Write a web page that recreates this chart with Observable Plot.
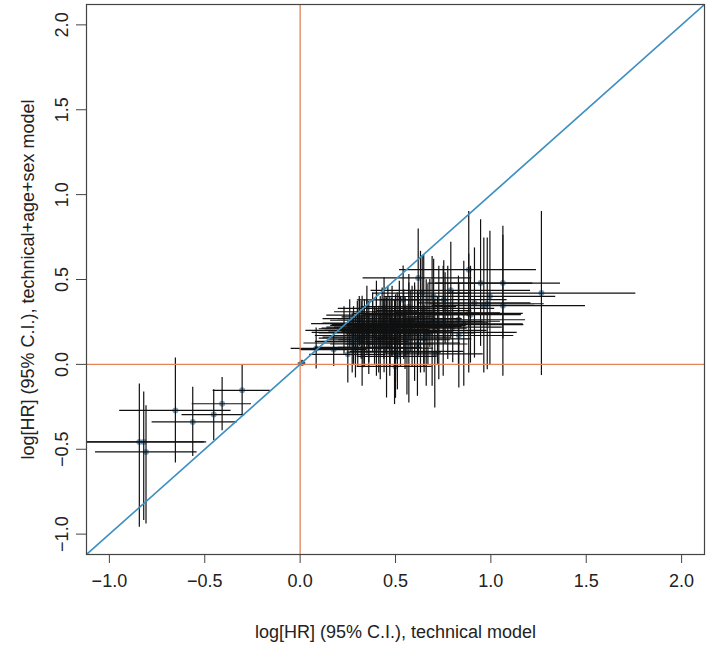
<!DOCTYPE html>
<html>
<head>
<meta charset="utf-8">
<script src="https://cdn.jsdelivr.net/npm/d3@7"></script>
<script src="https://cdn.jsdelivr.net/npm/@observablehq/plot@0.6"></script>
<style>
  html, body { margin: 0; padding: 0; background: #fff; }
  #chart svg { display: block; }
</style>
</head>
<body>
<div id="chart"></div>
<script>
// log[HR] estimates and 95% CI, technical model (x)
const techEst = [
  -0.654, -0.563, -0.453, -0.409, -0.304, -0.843, -0.820, -0.808, 0.010,
  0.084, 0.176, 0.250, 0.273, 0.302, 0.311, 0.325, 0.337, 0.400, 0.412,
  0.439, 0.453, 0.470, 0.482, 0.495, 0.509, 0.526, 0.543, 0.570, 0.587,
  0.619, 0.615, 0.631, 0.648, 0.661, 0.692, 0.706, 0.727, 0.750, 0.753,
  0.774, 0.790, 0.832, 0.858, 0.884, 0.884, 0.893, 0.914, 0.946, 0.963,
  0.981, 0.995, 1.063, 1.063, 1.265, 0.830, 0.670, 0.500, 0.600, 0.440,
  0.500, 0.560, 0.510, 0.500,
  0.30, 0.32, 0.35, 0.38, 0.40, 0.42, 0.45, 0.48, 0.52, 0.55, 0.58, 0.62,
  0.28, 0.33, 0.36, 0.38, 0.43, 0.46, 0.47, 0.40, 0.44, 0.35, 0.52, 0.57,
  0.29, 0.36, 0.42, 0.55, 0.60, 0.68, 0.72, 0.65, 0.76, 0.80, 0.26, 0.23,
  0.31, 0.70, 0.54, 0.64, 0.39, 0.47
];
const techLo = [
  -0.946, -0.776, -0.619, -0.566, -0.456, -1.180, -1.150, -1.073, -0.010,
  -0.047, 0.000, 0.050, 0.020, 0.100, 0.120, 0.080, 0.100, 0.180, 0.150,
  0.200, 0.200, 0.220, 0.250, 0.250, 0.280, 0.250, 0.300, 0.300, 0.330,
  0.330, 0.350, 0.334, 0.400, 0.400, 0.420, 0.450, 0.470, 0.450, 0.421,
  0.500, 0.372, 0.550, 0.550, 0.521, 0.600, 0.620, 0.620, 0.670, 0.700,
  0.680, 0.650, 0.710, 0.692, 0.770, 0.474, 0.168, 0.115, 0.063, 0.159,
  0.203, 0.264, 0.299, 0.299,
  0.10, 0.13, 0.14, 0.16, 0.18, 0.19, 0.22, 0.24, 0.28, 0.30, 0.33, 0.37,
  0.08, 0.12, 0.15, 0.16, 0.20, 0.22, 0.24, 0.18, 0.20, 0.14, 0.28, 0.32,
  0.08, 0.16, 0.20, 0.31, 0.35, 0.42, 0.46, 0.40, 0.50, 0.54, 0.06, 0.03,
  0.12, 0.44, 0.30, 0.38, 0.17, 0.24
];
const techHi = [
  -0.362, -0.330, -0.290, -0.255, -0.156, -0.502, -0.490, -0.540, 0.030,
  0.211, 0.350, 0.450, 0.520, 0.500, 0.500, 0.570, 0.580, 0.620, 0.670,
  0.680, 0.700, 0.720, 0.720, 0.740, 0.740, 0.800, 0.790, 0.840, 0.850,
  0.900, 0.880, 0.893, 0.900, 0.920, 0.960, 0.960, 0.990, 1.050, 1.085,
  1.050, 1.208, 1.120, 1.170, 1.239, 1.170, 1.160, 1.210, 1.220, 1.230,
  1.280, 1.340, 1.365, 1.496, 1.760, 1.182, 1.173, 0.876, 1.138, 0.718,
  0.788, 0.858, 0.718, 0.692,
  0.50, 0.52, 0.56, 0.60, 0.62, 0.65, 0.68, 0.72, 0.76, 0.80, 0.83, 0.87,
  0.48, 0.54, 0.57, 0.60, 0.66, 0.70, 0.70, 0.62, 0.68, 0.56, 0.76, 0.82,
  0.50, 0.56, 0.64, 0.79, 0.85, 0.94, 0.98, 0.90, 1.02, 1.06, 0.46, 0.43,
  0.50, 0.96, 0.78, 0.90, 0.61, 0.70
];
// log[HR] estimates and 95% CI, technical+age+sex model (y)
const adjEst = [
  -0.271, -0.339, -0.296, -0.232, -0.153, -0.457, -0.457, -0.516, 0.008,
  0.094, 0.087, 0.059, 0.126, 0.155, 0.243, 0.136, 0.185, 0.096, 0.145,
  0.205, 0.096, 0.195, 0.253, 0.072, 0.224, 0.195, 0.234, 0.126, 0.224,
  0.509, 0.120, 0.293, 0.317, 0.185, 0.253, 0.062, 0.244, 0.254, 0.381,
  0.303, 0.436, 0.170, 0.239, 0.558, 0.300, 0.293, 0.362, 0.479, 0.347,
  0.357, 0.401, 0.479, 0.346, 0.420, 0.263, 0.234, 0.214, 0.189, 0.169,
  0.145, 0.077, 0.047, -0.012,
  0.21, 0.20, 0.22, 0.23, 0.22, 0.24, 0.23, 0.22, 0.23, 0.22, 0.25, 0.23,
  0.17, 0.16, 0.19, 0.26, 0.27, 0.28, 0.18, 0.31, 0.33, 0.29, 0.30, 0.34,
  0.10, 0.12, 0.10, 0.16, 0.27, 0.30, 0.20, 0.15, 0.33, 0.22, 0.24, 0.20,
  0.27, 0.40, 0.38, 0.42, 0.17, 0.12
];
const adjLo = [
  -0.581, -0.542, -0.449, -0.391, -0.302, -0.960, -0.920, -0.940, -0.010,
  -0.027, -0.012, -0.110, -0.051, -0.011, 0.106, -0.129, -0.012, -0.070, -0.051,
  0.028, -0.198, -0.012, 0.047, -0.237, 0.028, -0.012, 0.028, -0.228, -0.012,
  0.220, -0.188, -0.051, -0.012, -0.129, -0.129, -0.257, -0.090, -0.070, 0.150,
  0.028, 0.150, -0.139, -0.129, 0.215, -0.051, 0.008, 0.037, 0.106, -0.051,
  -0.031, 0.000, 0.150, -0.070, -0.066, 0.000, 0.000, 0.020, -0.100, -0.050,
  -0.100, -0.180, -0.150, -0.200,
  0.05, 0.03, 0.06, 0.07, 0.05, 0.08, 0.06, 0.05, 0.05, 0.04, 0.07, 0.05,
  0.00, -0.02, 0.01, 0.10, 0.09, 0.10, -0.01, 0.13, 0.15, 0.12, 0.11, 0.15,
  -0.08, -0.06, -0.09, -0.03, 0.08, 0.10, 0.00, -0.05, 0.12, 0.01, 0.10, 0.06,
  0.14, 0.18, 0.18, 0.20, 0.00, -0.07
];
const adjHi = [
  0.038, -0.135, -0.149, -0.077, -0.002, -0.115, -0.163, -0.243, 0.025,
  0.214, 0.185, 0.228, 0.303, 0.322, 0.381, 0.401, 0.381, 0.263, 0.342,
  0.381, 0.391, 0.401, 0.460, 0.381, 0.420, 0.401, 0.440, 0.479, 0.460,
  0.798, 0.430, 0.666, 0.646, 0.499, 0.636, 0.381, 0.578, 0.578, 0.610,
  0.578, 0.720, 0.479, 0.607, 0.901, 0.650, 0.578, 0.686, 0.852, 0.744,
  0.744, 0.784, 0.813, 0.760, 0.901, 0.520, 0.470, 0.410, 0.480, 0.390,
  0.390, 0.330, 0.250, 0.180,
  0.37, 0.37, 0.38, 0.39, 0.39, 0.40, 0.40, 0.39, 0.41, 0.40, 0.43, 0.41,
  0.34, 0.34, 0.37, 0.42, 0.45, 0.46, 0.37, 0.49, 0.51, 0.46, 0.49, 0.53,
  0.28, 0.30, 0.29, 0.35, 0.46, 0.50, 0.40, 0.35, 0.54, 0.43, 0.38, 0.34,
  0.40, 0.62, 0.58, 0.64, 0.34, 0.31
];

const axisLimits = [-1.12, 2.12];
const xTicks = [-1.0, -0.5, 0.0, 0.5, 1.0, 1.5, 2.0];
const yTicks = [-1.0, -0.5, 0.0, 0.5, 1.0, 1.5, 2.0];
const xTitle = "log[HR] (95% C.I.), technical model";
const yTitle = "log[HR] (95% C.I.), technical+age+sex model";

const rows = techEst.map((x, i) => ({
  x, xlo: techLo[i], xhi: techHi[i],
  y: adjEst[i], ylo: adjLo[i], yhi: adjHi[i]
}));

const fmt = d3.format(".1f");
const font = "'Liberation Sans', Arial, Helvetica, sans-serif";

const chart = Plot.plot({
  width: 708,
  height: 645,
  marginLeft: 86,
  marginRight: 4,
  marginTop: 4,
  marginBottom: 91,
  style: { fontFamily: font, fontSize: "18px", color: "#222", background: "#fff" },
  x: { domain: axisLimits, label: null },
  y: { domain: axisLimits, label: null },
  marks: [
    Plot.dot(rows, { x: "x", y: "y", r: 3, fill: "#4F86AC", fillOpacity: 0.75, stroke: "none" }),
    Plot.ruleY(rows, { y: "y", x1: "xlo", x2: "xhi", stroke: "#111", strokeWidth: 1.2, clip: true }),
    Plot.ruleX(rows, { x: "x", y1: "ylo", y2: "yhi", stroke: "#111", strokeWidth: 1.2, clip: true }),
    Plot.ruleX([0], { stroke: "#E3845A", strokeWidth: 1.3 }),
    Plot.ruleY([0], { stroke: "#E3845A", strokeWidth: 1.3 }),
    Plot.line(axisLimits, { x: d => d, y: d => d, stroke: "#3F8FC1", strokeWidth: 1.6, clip: true }),
    Plot.frame({ stroke: "#444", strokeWidth: 1.2 }),
    Plot.axisX({ ticks: xTicks, tickSize: 9, tickPadding: 11, tickFormat: fmt, label: null, stroke: "#444", fontSize: 18 }),
    Plot.axisY({ ticks: yTicks, tickSize: 10, tickFormat: () => "", label: null, stroke: "#444" }),
    Plot.text(yTicks, { y: d => d, text: d => fmt(d), frameAnchor: "left", dx: -24, rotate: -90, textAnchor: "middle", lineAnchor: "middle", fontSize: 18, fill: "#222" }),
    Plot.text([xTitle], { frameAnchor: "bottom", dy: 78, textAnchor: "middle", fontSize: 18, fill: "#222", lineAnchor: "middle" }),
    Plot.text([yTitle], { frameAnchor: "left", dx: -58, rotate: -90, textAnchor: "middle", fontSize: 18, fill: "#222", lineAnchor: "middle" })
  ]
});
document.getElementById("chart").appendChild(chart);
</script>
</body>
</html>
